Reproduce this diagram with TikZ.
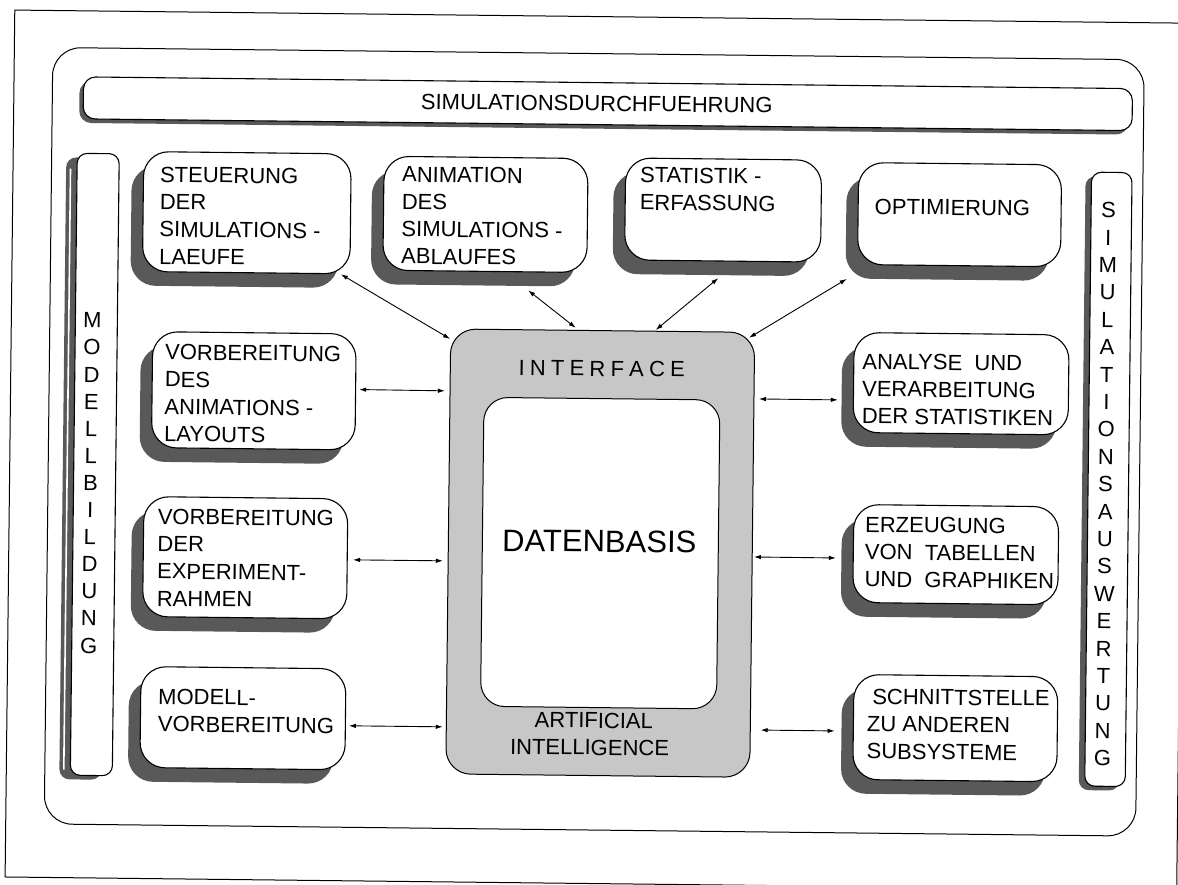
\documentclass[tikz,border=0pt]{standalone}
\usepackage{fontspec}
\setmainfont{Liberation Sans}
\usetikzlibrary{arrows.meta,calc,shadows}
% left-aligned stack of lines whose baseline is the first line's baseline
\newcommand\rows[1]{\vtop{\baselineskip=27.3pt\halign{##\hfil\cr#1\crcr}}}

\tikzset{
  frame/.style={line width=1pt},
  boxshape/.style={draw, line width=1.1pt, fill=white, rounded corners=25pt,
    anchor=north west, inner sep=0pt},
  shad/.style 2 args={drop shadow={shadow xshift=#1, shadow yshift=#2,
    fill=black!65, opacity=1}},
  lbl/.style={font=\fontsize{22pt}{27.3pt}\selectfont, inner sep=0pt, anchor=base west},
  link/.style={line width=0.9pt, {Latex[length=7pt,width=4.5pt]}-{Latex[length=7pt,width=4.5pt]}},
}

\begin{document}
\begin{tikzpicture}[x=1pt, y=-1pt]
\useasboundingbox (0,0) rectangle (1178,884);
\fill[white] (0,0) rectangle (1178,884);
\clip (0,0) rectangle (1178,884);

\begin{scope}[rotate around={-0.64:(590,440)}, every node/.append style={transform shape}]

% page frame and outer rounded frame
\draw[frame] (10,16.5) rectangle (1181.7,883.5);
\draw[frame, rounded corners=28pt] (48.5,53.5) rectangle (1140,830);

% simulation run bar
\node[boxshape, rounded corners=12pt, shad={-4pt}{-4pt},
  minimum width=1049pt, minimum height=42pt] (run) at (79,82) {};
\node[lbl, anchor=base] (runt) at (593,111) {SIMULATIONSDURCHFUEHRUNG};

% modelling bar (left)
\node[boxshape, rounded corners=10pt, shad={-11pt}{-4pt},
  minimum width=42pt, minimum height=622pt] (mb) at (73.5,158.5) {};
\draw[white, line width=1.6pt] ($(mb.north west)+(-6,16)$) -- ($(mb.south west)+(-6,-6)$);
\foreach \c [count=\i from 0] in {M,O,D,E,L,L,B,I,L,D,U,N,G}
  \node[lbl, anchor=base] (ml\i) at (91,333.5+27.1*\i) {\c};

% evaluation bar (right)
\node[boxshape, rounded corners=10pt, shad={-6pt}{-4pt},
  minimum width=40.5pt, minimum height=614pt] (sa) at (1088,166) {};
\foreach \c [count=\i from 0] in {S,I,M,U,L,A,T,I,O,N,S,A,U,S,W,E,R,T,U,N,G}
  \node[lbl, anchor=base] (sl\i) at (1106,212+27.4*\i) {\c};

% top row
\node[boxshape, shad={-12pt}{-14pt}, minimum width=207.5pt, minimum height=120pt] (b1) at (140,156) {};
\node[lbl] (t1) at (157,187) {\rows{STEUERUNG\cr DER\cr SIMULATIONS -\cr LAEUFE}};
\node[boxshape, shad={-12pt}{-14pt}, minimum width=204pt, minimum height=114pt] (b2) at (380.4,158) {};
\node[lbl] (t2) at (399,184) {\rows{ANIMATION\cr DES\cr SIMULATIONS -\cr ABLAUFES}};
\node[boxshape, shad={-12pt}{-14pt}, minimum width=196pt, minimum height=102pt] (b3) at (622,157) {};
\node[lbl] (t3) at (637,182) {\rows{STATISTIK -\cr ERFASSUNG}};
\node[boxshape, shad={-12pt}{-14pt}, minimum width=203pt, minimum height=102pt] (b4) at (855,159) {};
\node[lbl] (t4) at (872,211) {OPTIMIERUNG};

% left column
\node[boxshape, shad={-12pt}{-14pt}, minimum width=203.5pt, minimum height=116pt] (b5) at (151,336) {};
\node[lbl] (t5) at (164,364.4) {\rows{VORBEREITUNG\cr DES\cr ANIMATIONS -\cr LAYOUTS}};
\node[boxshape, shad={-12pt}{-14pt}, minimum width=204pt, minimum height=120pt] (b6) at (144,501) {};
\node[lbl] (t6) at (158.5,529) {\rows{VORBEREITUNG\cr DER\cr EXPERIMENT-\cr RAHMEN}};
\node[boxshape, shad={-12pt}{-14pt}, minimum width=205pt, minimum height=101pt] (b7) at (143,671) {};
\node[lbl] (t7) at (161,709) {\rows{MODELL-\cr VORBEREITUNG}};

% right column
\node[boxshape, shad={-12pt}{-14pt}, minimum width=215pt, minimum height=100pt] (b8) at (852.4,329) {};
\node[lbl] (t8) at (861.4,366) {\rows{ANALYSE\ \ UND\cr VERARBEITUNG\cr DER STATISTIKEN}};
\node[boxshape, shad={-12pt}{-14pt}, minimum width=205pt, minimum height=98pt] (b9) at (854,501) {};
\node[lbl] (t9) at (866,529) {\rows{ERZEUGUNG\cr VON\ \ TABELLEN\cr UND\ \ GRAPHIKEN}};
\node[boxshape, shad={-12pt}{-14pt}, minimum width=204pt, minimum height=105pt] (b10) at (856,671) {};
\node[lbl] (t10) at (870,701) {\rows{\kern5pt SCHNITTSTELLE\cr ZU ANDEREN\cr SUBSYSTEME}};

% data base with its interface ring
\node[draw, line width=1pt, fill=black!22, rounded corners=25pt, anchor=north west,
  minimum width=304pt, minimum height=445pt, inner sep=0pt] (ifc) at (449,330) {};
\node[draw, line width=1pt, fill=white, rounded corners=24pt, anchor=north west,
  minimum width=236pt, minimum height=309pt, inner sep=0pt] (db) at (483,398) {};
\node[lbl, anchor=base] (ift) at (601,376)
  {I\kern5.2pt N\kern5.2pt T\kern5.2pt E\kern5.2pt R\kern5.2pt F\kern5.2pt A\kern5.2pt C\kern5.2pt E};
\node[lbl, anchor=base, font=\fontsize{31pt}{36pt}\selectfont] (dbt) at (600.5,552) {DATENBASIS};
\node[lbl, anchor=base] (ai1) at (597,728) {ARTIFICIAL};
\node[lbl, anchor=base] (ai2) at (593,755) {INTELLIGENCE};

% connectors
\draw[link] ($(b1.south east)+(-9.5,0)$) -- ($(ifc.north west)+(0,10.5)$);
\draw[link] ($(b2.south)+(43.6,18)$) -- ($(ifc.north)+(-27,-2)$);
\draw[link] ($(b3.south)+(-4,16.6)$) -- ($(ifc.north)+(53,-0.7)$);
\draw[link] ($(b4.south west)+(-10,14)$) -- ($(ifc.north east)+(-6,6)$);
\draw[link] ($(b5.east)+(3,-2.4)$) -- ($(ifc.west)+(-4.6,-160.5)$);
\draw[link] ($(b6.east)+(5.3,1)$) -- ($(ifc.west)+(-4.7,9.5)$);
\draw[link] ($(b7.east)+(3,6.5)$) -- ($(ifc.west)+(-3,175.5)$);
\draw[link] ($(ifc.east)+(4.5,-155.9)$) -- ($(b8.west)+(-14.9,17.6)$);
\draw[link] ($(ifc.east)+(1.3,2.2)$) -- ($(b9.west)+(-16.7,4.7)$);
\draw[link] ($(ifc.east)+(10,175.2)$) -- ($(b10.west)+(-18,4.2)$);
\end{scope}
\end{tikzpicture}
\end{document}
